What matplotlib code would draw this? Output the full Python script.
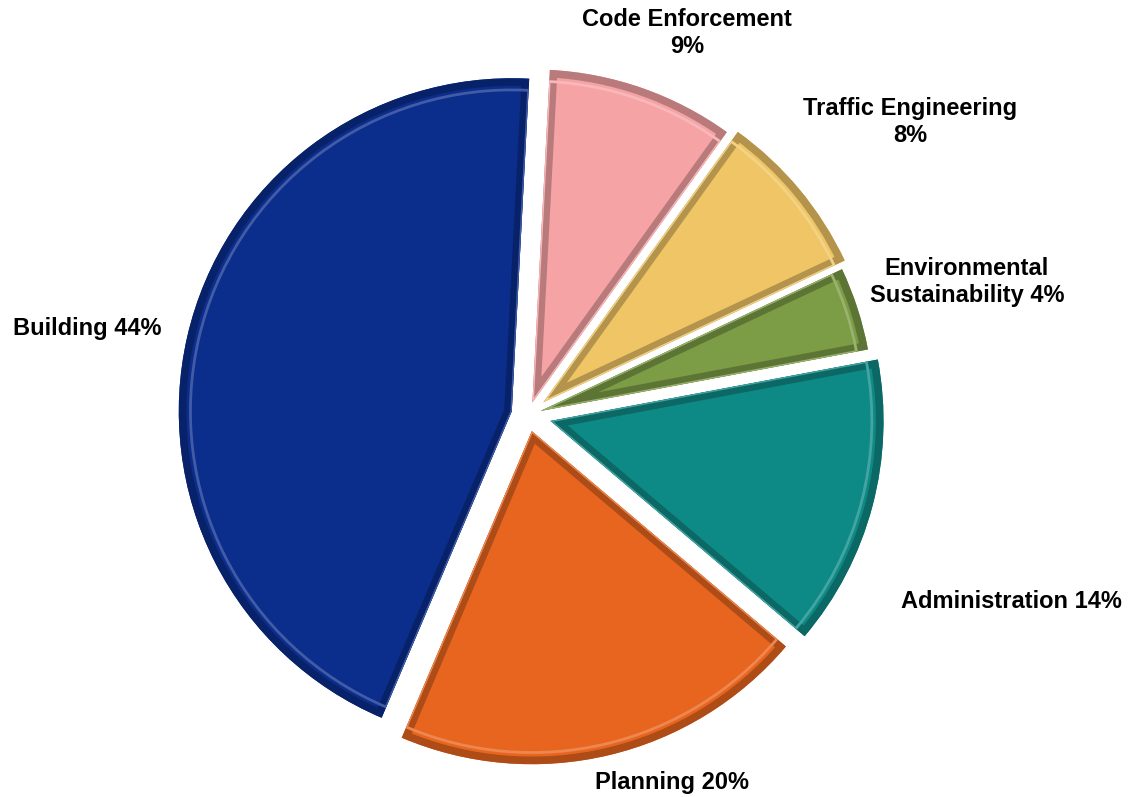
import matplotlib
matplotlib.use('Agg')
import matplotlib.pyplot as plt
import matplotlib.colors as mcolors
from matplotlib.patches import Wedge

# data (clockwise from 12 o'clock)
labels = ['Code Enforcement\n9%', 'Traffic Engineering\n8%', 'Environmental\nSustainability 4%',
          'Administration 14%', 'Planning 20%', 'Building 44%']
shares = [9, 8, 4, 14, 20, 44]
colors = ['#f6a3a5', '#f0c565', '#7c9c45', '#0e8a86', '#e8651f', '#0b2d8c']
explode = [0.04, 0.06, 0.04, 0.07, 0.05, 0.05]

# label centres in pixels (x, y from top)
label_pos = [(687, 33), (910, 122), (967, 282), (1011, 602), (672, 783), (87, 329)]

W, H = 1128, 797
cx, cy, rpx = 528, 415, 333

fig = plt.figure(figsize=(W / 100, H / 100), dpi=100)
ax = fig.add_axes([0, 0, 1, 1])


def shade(c, f):
    r, g, b = mcolors.to_rgb(c)
    return (r * f, g * f, b * f)


def tint(c, f):
    r, g, b = mcolors.to_rgb(c)
    return (r + (1 - r) * f, g + (1 - g) * f, b + (1 - b) * f)


wedges, _ = ax.pie(shares, colors=colors, explode=explode, startangle=87,
                   counterclock=False, radius=1.0,
                   wedgeprops=dict(linewidth=0))

# pie() resets the limits, so set them afterwards
ax.set_xlim(-cx / rpx, (W - cx) / rpx)
ax.set_ylim(-(H - cy) / rpx, cy / rpx)
ax.set_aspect('equal')
ax.axis('off')

# bevel: dark inset rim plus a lighter inner ridge, clipped to each wedge
for w, c in zip(wedges, colors):
    rim = Wedge(w.center, w.r, w.theta1, w.theta2, facecolor='none',
                edgecolor=shade(c, 0.75), linewidth=11, zorder=3)
    ax.add_patch(rim)
    rim.set_clip_path(w)
    ridge = Wedge(w.center, w.r - 0.035, w.theta1, w.theta2, facecolor='none',
                  edgecolor=tint(c, 0.22), linewidth=2, zorder=3)
    ax.add_patch(ridge)
    ridge.set_clip_path(w)

for txt, (px, py) in zip(labels, label_pos):
    fig.text(px / W, 1 - py / H, txt, ha='center', va='center', fontsize=17,
             fontweight='bold', family='Liberation Sans', linespacing=1.2)

fig.savefig('out.png', dpi=100)
